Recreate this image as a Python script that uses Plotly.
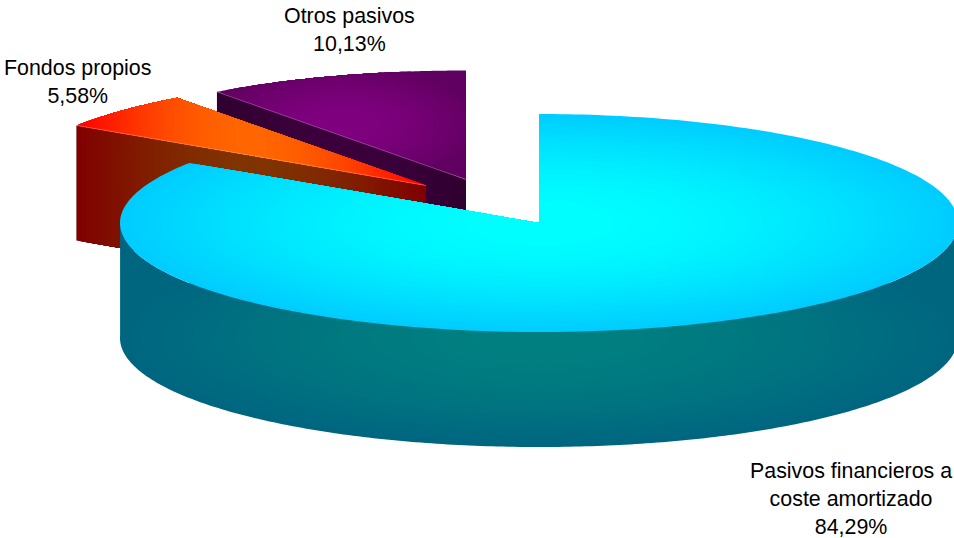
import numpy as np
import plotly.graph_objects as go

categories = ["Pasivos financieros a<br>coste amortizado", "Otros pasivos", "Fondos propios"]
values = [84.29, 10.13, 5.58]

# projection / style constants
RX, RY, DEPTH = 419.0, 109.0, 115.0
CENTERS = [(539.0, 223.0), (466.0, 179.5), (426.0, 185.5)]
LABEL_POS = [(851, 499), (349, 30), (77, 82)]

traces = []


def pt(c, theta, r=1.0, d=0.0):
    return (c[0] + RX * r * np.sin(theta), c[1] - RY * r * np.cos(theta) + d)


def sector(c, a0, a1, r=1.0, n=120):
    return [c] + [pt(c, t, r) for t in np.linspace(a0, a1, n)]


def clip(poly, clipper):
    """Clip a polygon against a convex polygon (Sutherland-Hodgman)."""
    area = sum(clipper[i][0] * clipper[(i + 1) % len(clipper)][1] - clipper[(i + 1) % len(clipper)][0] * clipper[i][1]
               for i in range(len(clipper)))
    sign = 1 if area > 0 else -1
    out = list(poly)
    for i in range(len(clipper)):
        a, b = clipper[i], clipper[(i + 1) % len(clipper)]
        if abs(a[0] - b[0]) < 1e-9 and abs(a[1] - b[1]) < 1e-9:
            continue
        side = lambda p: sign * ((b[0] - a[0]) * (p[1] - a[1]) - (b[1] - a[1]) * (p[0] - a[0]))
        res = []
        for j in range(len(out)):
            p, q = out[j], out[(j + 1) % len(out)]
            sp, sq = side(p), side(q)
            if sp >= 0:
                res.append(p)
            if sp * sq < 0:
                t = sp / (sp - sq)
                res.append((p[0] + (q[0] - p[0]) * t, p[1] + (q[1] - p[1]) * t))
        out = res
        if not out:
            break
    return out


def add(poly, rgb):
    if len(poly) < 3:
        return
    xs = [p[0] for p in poly] + [poly[0][0]]
    ys = [p[1] for p in poly] + [poly[0][1]]
    traces.append(go.Scatter(x=xs, y=ys, mode="none", fill="toself",
                             fillcolor="rgb(%d,%d,%d)" % tuple(rgb),
                             hoverinfo="skip", showlegend=False))


def edge_line(a, b, color):
    traces.append(go.Scatter(x=[a[0], b[0]], y=[a[1], b[1]], mode="lines",
                             line=dict(color=color, width=0.8),
                             hoverinfo="skip", showlegend=False))


def lerp(a, b, t):
    return tuple(int(round(a[k] + (b[k] - a[k]) * t)) for k in range(3))


def ellipse(cx, cy, rx, ry, n=160):
    return [(cx + rx * np.cos(t), cy + ry * np.sin(t)) for t in np.linspace(0, 2 * np.pi, n, endpoint=False)]


def radius_of(f):
    """Radial position (0 centre .. 1 edge) at blend f of a cosine gradient."""
    return np.arccos(f) * 2 / np.pi


def band_stack(poly, mid, half, edge, centre, levels):
    """Horizontal reflected gradient: nested bands around x = mid, clipped to a convex polygon."""
    add(poly, edge)
    for k in range(1, levels + 1):
        f = k / levels
        w = half * radius_of(f)
        rect = [(mid - w, -1000), (mid + w, -1000), (mid + w, 2000), (mid - w, 2000)]
        add(clip(poly, rect), lerp(edge, centre, f))


# slice angles, clockwise from 12 o'clock
total = sum(values)
big1 = values[0] / total * 2 * np.pi
own1 = big1 + values[2] / total * 2 * np.pi
TWO_PI = 2 * np.pi

# ---- Otros pasivos (purple)
c = CENTERS[1]
p0 = pt(c, own1)
face = [c, p0, (p0[0], p0[1] + DEPTH), (c[0], c[1] + DEPTH)]
bx, brx = (p0[0] + c[0]) / 2, (c[0] - p0[0]) / 2
band_stack(face, bx, brx, (0x30, 0, 0x30), (0x3c, 0, 0x3c), 12)
top = sector(c, own1, TWO_PI)
by, bry = c[1] - RY / 2, RY / 2
add(top, (0x60, 0, 0x60))
for k in range(1, 33):
    f = k / 32
    rr = radius_of(f) * 1.15
    add(clip(ellipse(bx, by, brx * rr, bry * rr), top), lerp((0x60, 0, 0x60), (0x80, 0, 0x80), f))
edge_line(p0, c, "rgba(190,120,190,0.6)")

# ---- Fondos propios (orange)
c = CENTERS[2]
p0 = pt(c, big1)
face = [c, p0, (p0[0], p0[1] + DEPTH), (c[0], c[1] + DEPTH)]
omid, ohalf = (p0[0] + c[0]) / 2, (c[0] - p0[0]) / 2
band_stack(face, omid, ohalf, (0x80, 0, 0), (0x80, 0x33, 0), 51)
band_stack(sector(c, big1, own1), omid, ohalf, (0xff, 0, 0), (0xff, 0x66, 0), 102)
edge_line(p0, c, "rgba(255,190,150,0.5)")

# ---- Pasivos financieros (cyan)
c = CENTERS[0]
arc = [pt(c, t) for t in np.linspace(np.pi / 2 - 0.02, 3 * np.pi / 2 + 0.02, 240)]
wall = arc + [(x, y + DEPTH) for x, y in reversed(arc)]
WALL_EDGE, WALL_CENTRE = (0, 0x66, 0x80), (0, 0x80, 0x80)
add(wall, WALL_EDGE)
for k in range(1, 27):
    f = k / 26
    rr = radius_of(f)
    add(ellipse(c[0], c[1] + DEPTH, RX * rr, RY * rr), lerp(WALL_EDGE, WALL_CENTRE, f))
TOP_EDGE, TOP_CENTRE = (0, 0xcc, 0xff), (0, 0xff, 0xff)
for k in range(0, 51):
    f = k / 51
    add(sector(c, 0, big1, radius_of(f), 300), lerp(TOP_EDGE, TOP_CENTRE, f))

fig = go.Figure(traces)
for name, val, (lx, ly) in zip(categories, values, LABEL_POS):
    fig.add_annotation(x=lx, y=ly, xref="x", yref="y", showarrow=False,
                       text=f"{name}<br>{val:.2f}%".replace(".", ","),
                       font=dict(family="Liberation Sans, Arial, sans-serif", size=21.4, color="#000000"),
                       align="center")

fig.update_xaxes(range=[0, 954], visible=False, fixedrange=True)
fig.update_yaxes(range=[538, 0], visible=False, fixedrange=True)
fig.update_layout(width=954, height=538, margin=dict(l=0, r=0, t=0, b=0),
                  paper_bgcolor="white", plot_bgcolor="white", showlegend=False)
fig.write_html("out.html", config={"displayModeBar": False},
               post_script="document.body.style.margin='0';document.documentElement.style.overflow='hidden';")
